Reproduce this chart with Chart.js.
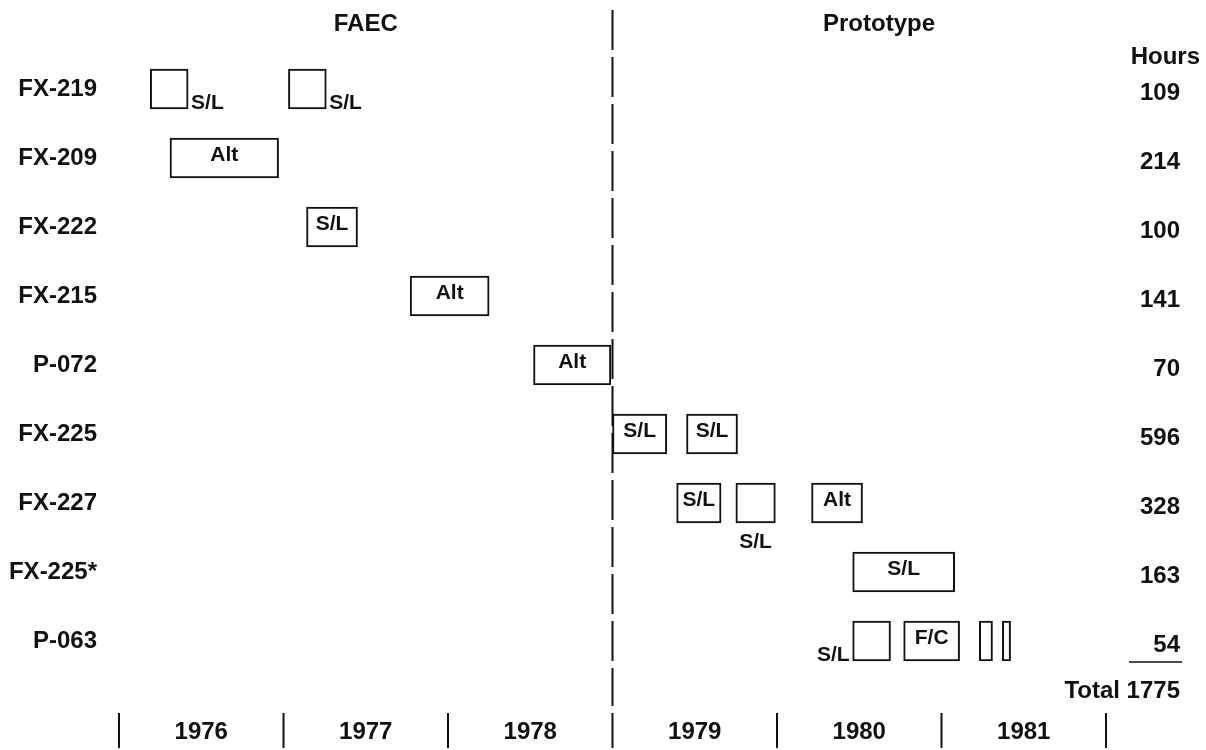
<!DOCTYPE html>
<html><head><meta charset="utf-8">
<script src="https://cdn.jsdelivr.net/npm/chart.js@4"></script>
<style>html,body{margin:0;padding:0;background:#fff}#wrap{width:1206px;height:750px;position:relative}</style>
</head><body><div id="wrap"><canvas id="c" width="1206" height="750"></canvas></div>
<script>
// ---- data ----
const rows = ['FX-219','FX-209','FX-222','FX-215','P-072','FX-225','FX-227','FX-225*','P-063'];
const hours = [109, 214, 100, 141, 70, 596, 328, 163, 54];
const totalHours = 1775;
const years = [1976, 1977, 1978, 1979, 1980, 1981];
const periods = ['FAEC', 'Prototype'];
const periodSplit = 1979;
// test segments per row: [start, end] in years
const test1 = [[1976.19,1976.42],[1976.31,1976.97],[1977.14,1977.45],[1977.77,1978.25],[1978.52,1978.99],[1979.0,1979.33],[1979.39,1979.66],[1980.46,1981.08],[1980.46,1980.69]];
const test1Type = ['S/L','Alt','S/L','Alt','Alt','S/L','S/L','S/L','S/L'];
const test2 = [[1977.03,1977.26],null,null,null,null,[1979.45,1979.76],[1979.75,1979.99],null,[1980.77,1981.11]];
const test2Type = ['S/L','','','','','S/L','S/L','','F/C'];
const test3 = [null,null,null,null,null,null,[1980.21,1980.52],null,[1981.23,1981.31]];
const test3Type = ['','','','','','','Alt','',''];
const test4 = [null,null,null,null,null,null,null,null,[1981.37,1981.42]];
const test4Type = ['','','','','','','','',''];

// ---- styling ----
const FONT = '"Liberation Sans", Arial, Helvetica, sans-serif';
const INK = '#111';
const segs = [test1, test2, test3, test4];
const segTypes = [test1Type, test2Type, test3Type, test4Type];
// labels drawn outside their box: dataset, index, placement
const outside = {'0-0':'right','1-0':'right','1-6':'below','0-8':'left'};

const overlay = {
  id: 'overlay',
  beforeDatasetsDraw(chart) {
    const {ctx, scales:{x}} = chart;
    const px = x.getPixelForValue(periodSplit);
    ctx.save();
    ctx.strokeStyle = INK; ctx.lineWidth = 2; ctx.setLineDash([40, 7]);
    ctx.beginPath(); ctx.moveTo(px, 10); ctx.lineTo(px, 706); ctx.stroke();
    ctx.restore();
  },
  afterDatasetsDraw(chart) {
    const {ctx, scales:{x, y}} = chart;
    ctx.save();
    ctx.fillStyle = INK; ctx.strokeStyle = INK;
    // box labels
    ctx.font = 'bold 21px ' + FONT;
    chart.data.datasets.forEach((ds, di) => {
      const meta = chart.getDatasetMeta(di);
      meta.data.forEach((bar, i) => {
        const t = segTypes[di][i];
        if (!t || ds.data[i] == null) return;
        const p = bar.getProps(['x','y','base','height'], true);
        const l = Math.min(p.x, p.base), r = Math.max(p.x, p.base);
        const bot = p.y + p.height/2;
        const pos = outside[di + '-' + i];
        if (pos === 'right') { ctx.textAlign = 'left'; ctx.textBaseline = 'alphabetic'; ctx.fillText(t, r + 3, bot); }
        else if (pos === 'left') { ctx.textAlign = 'right'; ctx.textBaseline = 'alphabetic'; ctx.fillText(t, l - 3, bot); }
        else if (pos === 'below') { ctx.textAlign = 'center'; ctx.textBaseline = 'top'; ctx.fillText(t, (l + r)/2, bot + 9); }
        else { ctx.textAlign = 'center'; ctx.textBaseline = 'middle'; ctx.fillText(t, (l + r)/2, p.y - 3); }
      });
    });
    // titles
    ctx.font = 'bold 24px ' + FONT;
    ctx.textAlign = 'center'; ctx.textBaseline = 'middle';
    ctx.fillText(periods[0], x.getPixelForValue(1977.5), 24);
    ctx.fillText(periods[1], x.getPixelForValue(1980.62), 24);
    ctx.textAlign = 'right';
    ctx.fillText('Hours', 1200, 57);
    hours.forEach((h, i) => ctx.fillText(String(h), 1180, y.getPixelForValue(i) + 4));
    // underline and total
    const yl = y.getPixelForValue(hours.length - 1) + 21;
    ctx.lineWidth = 1.5; ctx.beginPath(); ctx.moveTo(1129, yl); ctx.lineTo(1182, yl); ctx.stroke();
    ctx.fillText('Total ' + totalHours, 1180, 691);
    // years
    ctx.textAlign = 'center';
    years.forEach(yr => ctx.fillText(String(yr), x.getPixelForValue(yr + 0.5), 732));
    ctx.lineWidth = 2;
    years.concat([years[years.length-1] + 1]).forEach(yr => {
      const px = x.getPixelForValue(yr);
      ctx.beginPath(); ctx.moveTo(px, 713); ctx.lineTo(px, 748); ctx.stroke();
    });
    ctx.restore();
  }
};

const mk = (d) => ({data: d, backgroundColor: '#fff', borderColor: INK, borderWidth: 2, borderSkipped: false, barThickness: 40, grouped: false});

new Chart(document.getElementById('c'), {
  type: 'bar',
  data: { labels: rows, datasets: segs.map(mk) },
  options: {
    indexAxis: 'y', responsive: false, animation: false,
    layout: {padding: {left: 0, right: 100, top: 54.5, bottom: 74.5}},
    plugins: {legend: {display: false}, tooltip: {enabled: false}},
    scales: {
      x: {type: 'linear', min: 1976, max: 1982, display: false},
      y: {type: 'category', offset: true,
          grid: {display: false, drawTicks: false}, border: {display: false},
          ticks: {padding: 22, color: INK, font: {family: FONT, size: 24, weight: 'bold'}},
          afterFit: a => { a.width = 119; }}
    }
  },
  plugins: [overlay]
});
</script></body></html>
